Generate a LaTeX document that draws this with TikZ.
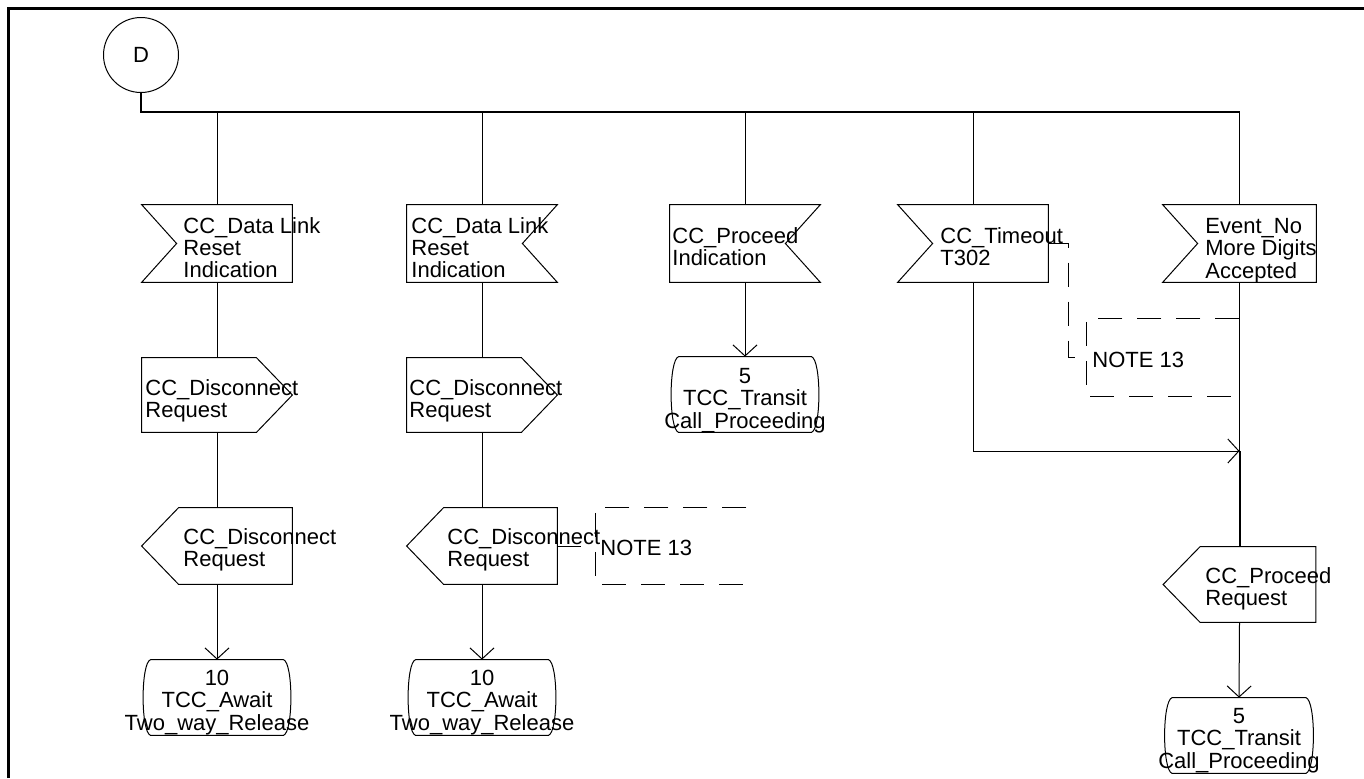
\documentclass[tikz,border=0pt]{standalone}
\usepackage{fontspec}
\setmainfont{Liberation Sans}
\usetikzlibrary{arrows.meta,calc}
\newcommand\Ltxt[1]{\begin{tabular}[t]{@{}l@{}}#1\end{tabular}}
\newcommand\Ctxt[1]{\begin{tabular}[t]{@{}c@{}}#1\end{tabular}}
% input symbol, notch on the left
\newcommand\shapeInL[1]{\draw[ln] (#1.north west) -- (#1.north east) -- (#1.south east) -- (#1.south west) -- ($(#1.west)+(35,0)$) -- cycle;}
% input symbol, notch on the right
\newcommand\shapeInR[1]{\draw[ln] (#1.north east) -- (#1.north west) -- (#1.south west) -- (#1.south east) -- ($(#1.east)+(-35,0)$) -- cycle;}
% output symbol pointing right
\newcommand\shapeOutR[1]{\draw[ln] (#1.north west) -- ($(#1.north east)+(-36,0)$) -- (#1.east) -- ($(#1.south east)+(-36,0)$) -- (#1.south west) -- cycle;}
% output symbol pointing left
\newcommand\shapeOutL[1]{\draw[ln] (#1.north east) -- ($(#1.north west)+(37,0)$) -- (#1.west) -- ($(#1.south west)+(37,0)$) -- (#1.south east) -- cycle;}
% state symbol
\newcommand\shapeState[1]{\draw[ln] ($(#1.north west)+(9,0)$) -- ($(#1.north east)+(-9,0)$) .. controls ($(#1.north east)+(1,3)$) and ($(#1.south east)+(1,-3)$) .. ($(#1.south east)+(-9,0)$) -- ($(#1.south west)+(9,0)$) .. controls ($(#1.south west)+(-1,-3)$) and ($(#1.north west)+(-1,3)$) .. cycle;}
% comment bracket
\newcommand\shapeNote[1]{\draw[note] (#1.north east) -- (#1.north west) -- (#1.south west) -- (#1.south east);}
\begin{document}
\begin{tikzpicture}[x=0.5pt,y=-0.5pt,
  ln/.style={line width=0.5pt},
  bus/.style={line width=1pt},
  arr/.style={line width=0.5pt,-{Straight Barb[length=5.5pt,width=12pt]}},
  note/.style={line width=0.5pt,dash pattern=on 12pt off 7.5pt},
  sym/.style={draw=none,inner sep=0,minimum width=75pt,minimum height=37.5pt},
  txt/.style={inner sep=0,font=\fontsize{11}{11}\selectfont},
  lt/.style={txt,anchor=base west},
  ct/.style={txt,anchor=base}]
\useasboundingbox (0,0) rectangle (1364,778);
% frame
\draw[line width=1.5pt] (8,778) -- (8,8) -- (1364,8);

% start connector
\node[circle,draw,line width=0.5pt,minimum size=37.5pt,txt] (D) at (141,55) {D};

% symbols (outline holders)
\node[sym,minimum height=38.5pt] (i1) at (217,243.5) {};
\node[sym,minimum height=38.5pt] (i2) at (482,243.5) {};
\node[sym,minimum height=38.5pt] (i3) at (745,243.5) {};
\node[sym,minimum height=38.5pt] (i4) at (973,243.5) {};
\node[sym,minimum height=38.5pt,minimum width=76.5pt] (i5) at (1239.5,243.5) {};
\node[sym,minimum height=37pt] (o1) at (217,395) {};
\node[sym,minimum height=37pt] (o2) at (482,395) {};
\node[sym,minimum height=38pt] (p1) at (217,546) {};
\node[sym,minimum height=38pt] (p2) at (482,546) {};
\node[sym,minimum height=37.5pt,minimum width=76pt] (o5) at (1239.5,584.5) {};
\node[sym,minimum height=37.5pt] (s1) at (217,697.5) {};
\node[sym,minimum height=37.5pt] (s2) at (482,697.5) {};
\node[sym,minimum height=37.5pt] (s3) at (745,394.5) {};
\node[sym,minimum height=37.5pt,minimum width=75.5pt] (s5) at (1239,735.5) {};
\node[sym,minimum height=38pt] (n1) at (671,546) {};
\node[sym,minimum height=38.5pt,minimum width=76pt] (n2) at (1163,357.5) {};

\shapeInL{i1}
\shapeInR{i2}
\shapeInR{i3}
\shapeInL{i4}
\shapeInL{i5}
\shapeOutR{o1}
\shapeOutR{o2}
\shapeOutL{p1}
\shapeOutL{p2}
\shapeOutL{o5}
\shapeState{s1}
\shapeState{s2}
\shapeState{s3}
\shapeState{s5}
\shapeNote{n1}
\shapeNote{n2}

% texts
\node[lt] (ti1) at (183,233) {\Ltxt{CC\_Data Link\\Reset\\Indication}};
\node[lt] (ti2) at (411,233) {\Ltxt{CC\_Data Link\\Reset\\Indication}};
\node[lt] (ti3) at (672,243) {\Ltxt{CC\_Proceed\\Indication}};
\node[lt] (ti4) at (940,243) {\Ltxt{CC\_Timeout\\T302}};
\node[lt] (ti5) at (1205,233) {\Ltxt{Event\_No\\More Digits\\Accepted}};
\node[lt] (to1) at (145,395) {\Ltxt{CC\_Disconnect\\Request}};
\node[lt] (to2) at (409,395) {\Ltxt{CC\_Disconnect\\Request}};
\node[lt] (tp1) at (183,544) {\Ltxt{CC\_Disconnect\\Request}};
\node[lt] (tp2) at (447,544) {\Ltxt{CC\_Disconnect\\Request}};
\node[lt] (to5) at (1205,583) {\Ltxt{CC\_Proceed\\Request}};
\node[ct] (ts1) at (217,685) {\Ctxt{10\\TCC\_Await\\Two\_way\_Release}};
\node[ct] (ts2) at (482,685) {\Ctxt{10\\TCC\_Await\\Two\_way\_Release}};
\node[ct] (ts3) at (745,383) {\Ctxt{5\\TCC\_Transit\\Call\_Proceeding}};
\node[ct] (ts5) at (1239,723) {\Ctxt{5\\TCC\_Transit\\Call\_Proceeding}};
\node[lt] (tn1) at (600,555) {NOTE 13};
\node[lt] (tn2) at (1092,367) {NOTE 13};

% bus
\coordinate (b1) at (217,112);
\coordinate (b2) at (482,112);
\coordinate (b3) at (745,112);
\coordinate (b4) at (973,112);
\coordinate (b5) at (1239.5,112);
\coordinate (j) at (1239.5,451);
\draw[bus] (D.south) |- (b5);
\draw[ln] (b1) -- (i1.north);
\draw[ln] (b2) -- (i2.north);
\draw[ln] (b3) -- (i3.north);
\draw[ln] (b4) -- (i4.north);
\draw[ln] (b5) -- (i5.north);

% column 1
\draw[ln] (i1.south) -- (o1.north);
\draw[ln] (o1.south) -- (p1.north);
\draw[arr] (p1.south) -- (s1.north);
% column 2
\draw[ln] (i2.south) -- (o2.north);
\draw[ln] (o2.south) -- (p2.north);
\draw[arr] (p2.south) -- (s2.north);
\draw[note] (p2.east) -- (n1.west);
% column 3
\draw[arr] (i3.south) -- (s3.north);
% column 4
\draw[arr] (i4.south) |- (j);
\draw[note] (i4.east) -- ++(20,0) |- (n2.west);
% column 5
\draw[ln] (i5.south) -- (j);
\draw[bus] (j) -- (o5.north);
\draw[arr] (o5.south) -- (s5.north);
\end{tikzpicture}
\end{document}
